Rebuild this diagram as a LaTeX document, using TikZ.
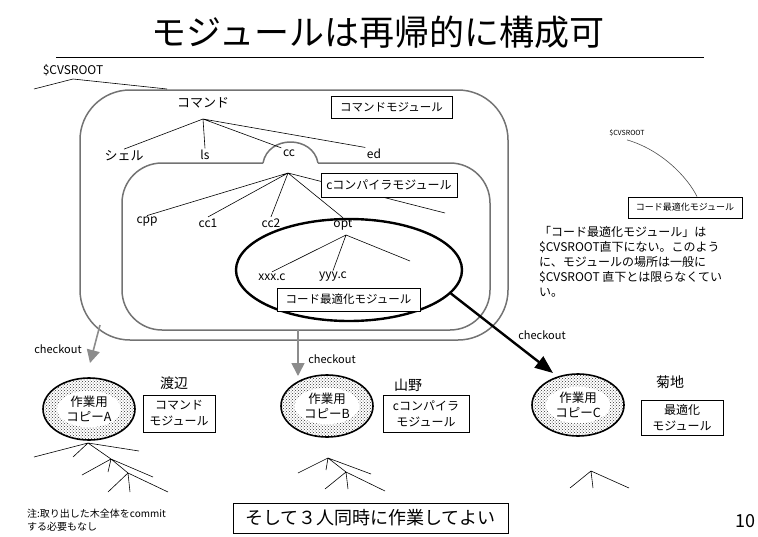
\documentclass[tikz,border=0pt]{standalone}
\usepackage{fontspec}
\setmainfont{Noto Sans CJK JP}
\usetikzlibrary{arrows.meta,shapes.geometric,patterns}
\newcommand{\fsz}[2]{\fontsize{#1}{#2}\selectfont}
\newcommand{\wcopy}[4]{\node[ellipse,draw,line width=1.6pt,pattern=crosshatch dots,pattern color=black!80,minimum width=92pt,minimum height=62pt] (#1) at (#2,#3) {};
\node[ellipse,fill=white,inner sep=0pt,align=center,font=\fsz{12.5}{15}] (#1txt) at (#2,#3) {作業用\\コピー#4};}

\begin{document}
\begin{tikzpicture}[x=1pt,y=-1pt,
  lbl/.style={inner sep=1.5pt,font=\fsz{12}{14}},
  modbox/.style={draw,fill=white,line width=0.8pt,inner sep=0pt,align=center},
  modline/.style={draw=black!55,line width=1.5pt},
  co/.style={draw=black!45,line width=1.6pt,-{Triangle[width=13pt,length=13pt]}},
  tree/.style={line width=0.6pt}]
\useasboundingbox (0,0) rectangle (758,536);
% title
\node[font=\fsz{35}{40}] (title) at (378,32) {モジュールは再帰的に構成可};
\draw[line width=1pt] (56,57) -- (704,57);
% module areas
\draw[modline,rounded corners=50pt] (80,200) -- (80,90) -- (508,90) -- (508,340) -- (80,340) -- cycle;
\draw[modline,rounded corners=40pt] (263,163) -- (122,163) -- (122,330) -- (490,330) -- (490,163) -- (318,163);
\draw[modline] (263,163) .. controls (268,135) and (313,135) .. (318,163);
\node[ellipse,draw,line width=2.4pt,minimum width=226pt,minimum height=102pt] (optarea) at (349,270) {};
% $CVSROOT
\node[font=\fsz{12}{14}] (cvsL) at (73,70) {\$CVSROOT};
\foreach \n/\x/\y in {cvsa/34/89,cvsb/73/79,cvsc/167/89}{\coordinate (\n) at (\x,\y);}
\draw[tree] (cvsa) -- (cvsb) -- (cvsc);
% repository tree
\foreach \n/\x/\y in {cmdroot/203/119,ccroot/288/173,optroot/346/235,ccfree/445/213,optfree/410/261}{\coordinate (\n) at (\x,\y);}
\node[lbl,font=\fsz{13}{15}] (cmd) at (203,103) {コマンド};
\node[lbl,font=\fsz{13}{15}] (shell) at (124,156) {シェル};
\node[lbl] (ls) at (205,155) {ls};
\node[lbl] (cc) at (289,153) {cc};
\node[lbl] (ed) at (374,154) {ed};
\node[lbl] (cpp) at (147,222) {cpp};
\node[lbl] (cc1) at (208,223) {cc1};
\node[lbl] (cc2) at (271,223) {cc2};
\node[lbl] (opt) at (343,225) {opt};
\node[lbl] (xxxc) at (272,277) {xxx.c};
\node[lbl] (yyyc) at (333,277) {yyy.c};
\draw[tree] (cmdroot) -- (shell.north) (cmdroot) -- (ls.north) (cmdroot) -- (cc.north west) (cmdroot) -- (ed.north west);
\draw[tree] (ccroot) -- (cpp.north) (ccroot) -- (cc1.north) (ccroot) -- (cc2.north) (ccroot) -- (opt.north) (ccroot) -- (ccfree);
\draw[tree] (optroot) -- (xxxc.north) (optroot) -- (yyyc.north) (optroot) -- (optfree);
% module names
\node[modbox,minimum width=121pt,minimum height=22pt,font=\fsz{11.5}{14}] (cmdmod) at (391.5,107) {コマンドモジュール};
\node[modbox,minimum width=136pt,minimum height=24pt,font=\fsz{12}{14}] (ccmod) at (389,185) {cコンパイラモジュール};
\node[modbox,minimum width=143pt,minimum height=23pt,font=\fsz{11.5}{14}] (optmod) at (348.5,299.5) {コード最適化モジュール};
% right side
\node[font=\fsz{7}{8}] (cvsR) at (627,133) {\$CVSROOT};
\node[modbox,minimum width=114pt,minimum height=21pt,font=\fsz{9}{11}] (optR) at (685,207.5) {コード最適化モジュール};
\draw[line width=0.6pt,black!70] (cvsR.south) .. controls (662,150) and (688,178) .. ([xshift=12pt]optR.north);
\node[anchor=north west,align=left,inner sep=0pt,font=\fsz{12}{15}] (note) at (539,226) {「コード最適化モジュール」は\\\$CVSROOT直下にない。このよう\\に、モジュールの場所は一般に\\\$CVSROOT 直下とは限らなくてい\\い。};
% working copies
\wcopy{copyA}{89}{409}{A}
\wcopy{copyB}{327}{406}{B}
\wcopy{copyC}{578}{405}{C}
\node[font=\fsz{14}{16}] (nameA) at (174,383) {渡辺};
\node[font=\fsz{14}{16}] (nameB) at (408,385) {山野};
\node[font=\fsz{14}{16}] (nameC) at (670,382) {菊地};
\node[modbox,minimum width=72pt,minimum height=37pt,font=\fsz{12}{16}] (modA) at (179,413.5) {コマンド\\モジュール};
\node[modbox,minimum width=86pt,minimum height=37pt,font=\fsz{12}{16}] (modB) at (426,413.5) {cコンパイラ\\モジュール};
\node[modbox,minimum width=82pt,minimum height=35pt,font=\fsz{12}{16}] (modC) at (682,417.5) {最適化\\モジュール};
% checkout
\foreach \n/\x/\y in {coA/100/325,tipA/90/363,coB/298/330,tipB/298/376,tipC/553/373}{\coordinate (\n) at (\x,\y);}
\draw[co] (coA) -- (tipA);
\draw[co] (coB) -- (tipB);
\draw[line width=2.4pt,-{Triangle[width=14pt,length=18pt]}] (optarea.-13.5) -- (tipC);
\node[font=\fsz{11}{13}] (ckA) at (58,349) {checkout};
\node[font=\fsz{11}{13}] (ckB) at (332,359) {checkout};
\node[font=\fsz{11}{13}] (ckC) at (542,335) {checkout};
% checked-out trees
\foreach \n/\x/\y in {a0/88/443,a1/34/457,a2/73/457,a3/139/451,a4/111/459,a5/82/475,a6/108/472,a7/153/477,a8/128/473,a9/108/492,a10/130/492,a11/168/492,
  b0/328/458,b1/298/473,b2/326/470,b3/371/474,b4/346/472,b5/325/489,b6/348/489,b7/385/491,
  c0/591/471,c1/570/488,c2/593/488,c3/629/488}{\coordinate (\n) at (\x,\y);}
\draw[tree] (a1)--(a0)--(a3) (a0)--(a2) (a0)--(a4)--(a5) (a4)--(a6) (a4)--(a7) (a4)--(a8)--(a9) (a8)--(a10) (a8)--(a11);
\draw[tree] (b1)--(b0)--(b3) (b0)--(b2) (b0)--(b4)--(b5) (b4)--(b6) (b4)--(b7);
\draw[tree] (c1)--(c0)--(c3) (c0)--(c2);
% bottom
\node[anchor=north west,align=left,inner sep=0pt,font=\fsz{10}{13}] (memo) at (27,509) {注:取り出した木全体をcommit\\する必要もなし};
\node[draw,line width=0.8pt,minimum width=275pt,minimum height=30pt,inner sep=0pt,font=\fsz{18}{20}] (final) at (370.5,518) {そして３人同時に作業してよい};
\node[font=\fsz{18}{20}] (pageno) at (745,521) {10};
\end{tikzpicture}
\end{document}
